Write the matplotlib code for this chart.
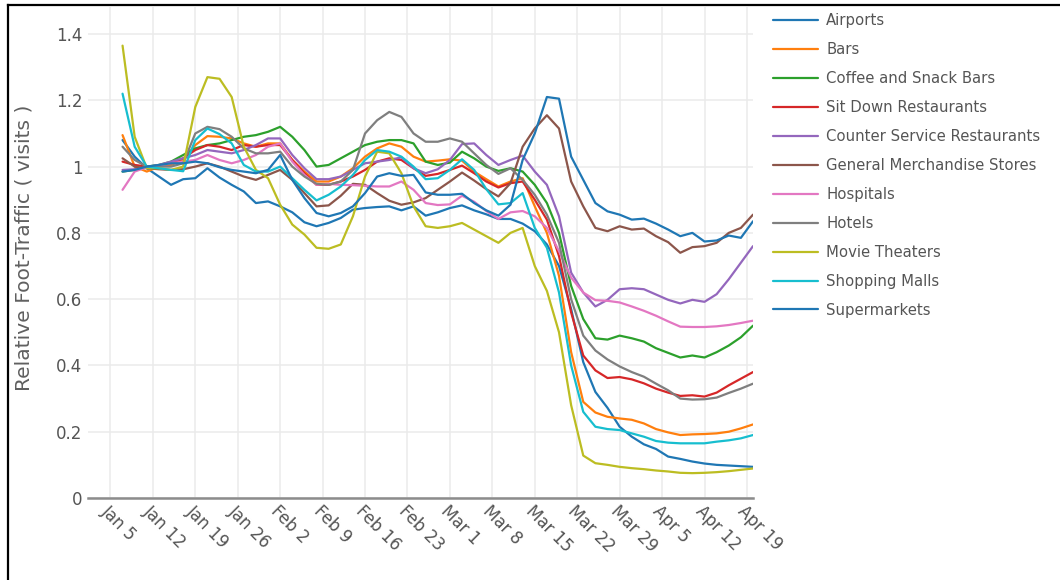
import matplotlib
matplotlib.use('Agg')
import matplotlib.pyplot as plt
from matplotlib.lines import Line2D
import pandas as pd

plt.rcParams['font.family'] = ['DejaVu Sans']

# ---------------- data ----------------
dates = pd.date_range('2020-01-07', '2020-04-20', freq='2D')
tick_dates = pd.date_range('2020-01-05', '2020-04-19', freq='7D')
y_ticks = [0, 0.2, 0.4, 0.6, 0.8, 1.0, 1.2, 1.4]

categories = ['Airports', 'Bars', 'Coffee and Snack Bars', 'Sit Down Restaurants',
              'Counter Service Restaurants', 'General Merchandise Stores', 'Hospitals',
              'Hotels', 'Movie Theaters', 'Shopping Malls', 'Supermarkets']

airports = [1.08, 1.03, 0.995, 0.97, 0.945, 0.962, 0.965, 0.995, 0.967, 0.945,
            0.925, 0.89, 0.895, 0.88, 0.862, 0.832, 0.82, 0.83, 0.845, 0.87,
            0.875, 0.878, 0.88, 0.868, 0.88, 0.852, 0.862, 0.875, 0.883, 0.868,
            0.856, 0.842, 0.842, 0.828, 0.805, 0.765, 0.70, 0.57, 0.41, 0.32,
            0.272, 0.215, 0.185, 0.162, 0.148, 0.125, 0.118, 0.11, 0.104, 0.10,
            0.098, 0.096, 0.094]
bars = [1.095, 1.0, 0.985, 1.0, 1.005, 1.02, 1.065, 1.092, 1.09, 1.085,
        1.07, 1.06, 1.07, 1.07, 1.02, 0.985, 0.955, 0.955, 0.97, 0.995,
        1.03, 1.055, 1.07, 1.06, 1.03, 1.015, 1.018, 1.022, 1.018, 0.985,
        0.962, 0.94, 0.955, 0.965, 0.88, 0.80, 0.67, 0.44, 0.29, 0.258,
        0.245, 0.24, 0.236, 0.225, 0.208, 0.198, 0.19, 0.192, 0.193, 0.195,
        0.2, 0.21, 0.222]
coffee = [0.985, 0.99, 1.0, 1.005, 1.015, 1.035, 1.055, 1.065, 1.07, 1.08,
          1.09, 1.095, 1.105, 1.12, 1.09, 1.05, 1.0, 1.005, 1.025, 1.045,
          1.065, 1.075, 1.08, 1.08, 1.07, 1.015, 1.005, 1.012, 1.045, 1.025,
          1.0, 0.987, 0.995, 0.985, 0.945, 0.89, 0.80, 0.64, 0.54, 0.482,
          0.478, 0.49, 0.482, 0.472, 0.452, 0.438, 0.424, 0.43, 0.424, 0.44,
          0.46, 0.485, 0.52]
sit_down = [1.015, 1.005, 1.0, 1.003, 1.01, 1.025, 1.05, 1.065, 1.06, 1.05,
            1.065, 1.06, 1.065, 1.065, 1.02, 0.98, 0.945, 0.945, 0.955, 0.97,
            0.99, 1.015, 1.025, 1.02, 0.995, 0.972, 0.978, 0.99, 1.003, 0.98,
            0.955, 0.937, 0.95, 0.955, 0.90, 0.84, 0.73, 0.56, 0.43, 0.385,
            0.362, 0.365, 0.358, 0.346, 0.33, 0.318, 0.308, 0.31, 0.306, 0.318,
            0.34, 0.36, 0.38]
counter = [0.99, 0.992, 0.998, 1.005, 1.015, 1.025, 1.035, 1.05, 1.045, 1.04,
           1.05, 1.065, 1.085, 1.085, 1.035, 0.995, 0.962, 0.962, 0.97, 0.99,
           1.01, 1.015, 1.02, 1.028, 0.995, 0.98, 0.992, 1.02, 1.068, 1.07,
           1.035, 1.005, 1.02, 1.033, 0.985, 0.945, 0.85, 0.68, 0.62, 0.578,
           0.598, 0.63, 0.633, 0.63, 0.614, 0.598, 0.587, 0.598, 0.592, 0.615,
           0.66, 0.71, 0.76]
merchandise = [1.025, 1.0, 0.995, 0.992, 0.99, 0.992, 1.0, 1.01, 1.0, 0.985,
               0.97, 0.96, 0.975, 0.99, 0.96, 0.92, 0.88, 0.883, 0.912, 0.948,
               0.945, 0.92, 0.897, 0.885, 0.892, 0.905, 0.93, 0.955, 0.982, 0.958,
               0.932, 0.91, 0.95, 1.06, 1.115, 1.155, 1.115, 0.955, 0.88, 0.815,
               0.805, 0.82, 0.81, 0.813, 0.79, 0.772, 0.74, 0.757, 0.76, 0.77,
               0.80, 0.815, 0.855]
hospitals = [0.93, 0.985, 0.998, 1.002, 1.01, 1.015, 1.02, 1.035, 1.02, 1.01,
             1.02, 1.035, 1.06, 1.07, 1.015, 0.975, 0.945, 0.948, 0.945, 0.944,
             0.942, 0.94, 0.94, 0.955, 0.93, 0.89, 0.884, 0.886, 0.912, 0.894,
             0.866, 0.842, 0.862, 0.866, 0.85, 0.815, 0.745, 0.665, 0.62, 0.597,
             0.595, 0.59, 0.578, 0.565, 0.55, 0.533, 0.517, 0.516, 0.516, 0.518,
             0.522, 0.528, 0.535]
hotels = [1.06, 1.02, 1.0, 1.0, 1.0, 1.01, 1.10, 1.12, 1.113, 1.09,
          1.055, 1.04, 1.04, 1.045, 1.0, 0.97, 0.948, 0.945, 0.955, 0.99,
          1.10, 1.14, 1.165, 1.15, 1.10, 1.075, 1.075, 1.085, 1.075, 1.04,
          1.005, 0.978, 0.995, 0.96, 0.915, 0.855, 0.77, 0.60, 0.49, 0.445,
          0.418, 0.397, 0.38, 0.366, 0.345, 0.325, 0.30, 0.297, 0.298, 0.303,
          0.317, 0.33, 0.345]
movies = [1.365, 1.09, 0.995, 0.995, 0.99, 1.0, 1.18, 1.27, 1.265, 1.21,
          1.06, 0.99, 0.965, 0.885, 0.825, 0.795, 0.755, 0.752, 0.765, 0.85,
          0.97, 1.045, 1.04, 0.98, 0.88, 0.82, 0.815, 0.82, 0.83, 0.81,
          0.79, 0.77, 0.80, 0.815, 0.70, 0.625, 0.50, 0.28, 0.128, 0.105,
          0.10, 0.094, 0.09, 0.087, 0.083, 0.08, 0.076, 0.075, 0.076, 0.078,
          0.081, 0.085, 0.089]
malls = [1.22, 1.06, 1.0, 0.995, 0.99, 0.986, 1.08, 1.115, 1.098, 1.07,
         1.005, 0.985, 0.985, 1.0, 0.965, 0.93, 0.898, 0.915, 0.94, 0.975,
         1.02, 1.05, 1.045, 1.03, 1.0, 0.962, 0.965, 0.99, 1.022, 0.99,
         0.932, 0.886, 0.89, 0.92, 0.815, 0.755, 0.62, 0.40, 0.26, 0.215,
         0.208, 0.205, 0.195, 0.185, 0.172, 0.167, 0.165, 0.165, 0.165, 0.17,
         0.174, 0.18, 0.19]
supermarkets = [0.985, 0.99, 1.0, 1.005, 1.01, 1.01, 1.015, 1.01, 0.998, 0.99,
                0.985, 0.98, 0.99, 1.035, 0.96, 0.905, 0.86, 0.85, 0.86, 0.88,
                0.92, 0.97, 0.98, 0.972, 0.975, 0.922, 0.915, 0.915, 0.918, 0.89,
                0.868, 0.852, 0.885, 1.02, 1.10, 1.21, 1.205, 1.03, 0.96, 0.89,
                0.865, 0.855, 0.84, 0.843, 0.828, 0.81, 0.79, 0.80, 0.774, 0.777,
                0.792, 0.785, 0.835]

series = [airports, bars, coffee, sit_down, counter, merchandise, hospitals,
          hotels, movies, malls, supermarkets]
colors = ['#1f77b4', '#ff7f0e', '#2ca02c', '#d62728', '#9467bd', '#8c564b',
          '#e377c2', '#7f7f7f', '#bcbd22', '#17becf', '#1f77b4']

# ---------------- layout ----------------
W, H = 1060, 580
L, R, B, T = 88, 753, 498, 7
px_per_unit = 331.4
text_gray = '#555555'

fig = plt.figure(figsize=(W / 100, H / 100), dpi=100)
fig.patch.set_facecolor('white')
ax = fig.add_axes([L / W, 1 - B / H, (R - L) / W, (B - T) / H])

for name, vals, c in zip(categories, series, colors):
    ax.plot(dates, vals, color=c, lw=1.6, label=name,
            solid_joinstyle='round', solid_capstyle='round')

ax.set_xlim(pd.Timestamp('2020-01-05') - pd.Timedelta(days=3.7),
            pd.Timestamp('2020-04-20'))
ax.set_ylim(0, (B - T) / px_per_unit)

ax.set_xticks(tick_dates)
ax.set_xticklabels([f"{d:%b} {d.day}" for d in tick_dates])
ax.set_yticks(y_ticks)
ax.set_yticklabels([f"{v:g}" for v in y_ticks])

ax.tick_params(axis='both', length=0, labelsize=12, labelcolor=text_gray)
ax.tick_params(axis='y', pad=4)
ax.tick_params(axis='x', pad=3)
for lbl in ax.get_xticklabels():
    lbl.set_rotation(-45)
    lbl.set_ha('left')
    lbl.set_va('top')
    lbl.set_rotation_mode('anchor')

ax.grid(True, color='#ebebeb', lw=1.1)
ax.set_axisbelow(True)
for s in ['top', 'right', 'left']:
    ax.spines[s].set_visible(False)
ax.spines['bottom'].set_color('#8c8c8c')
ax.spines['bottom'].set_linewidth(1.8)

fig.text(24 / W, 1 - 248 / H, 'Relative Foot-Traffic ( visits )', rotation=90,
         ha='center', va='center', fontsize=14.6, color='#606060')

ax.legend(loc='upper left', bbox_to_anchor=(773 / W, 1 - 13 / H),
          bbox_transform=fig.transFigure, frameon=False, fontsize=10.7,
          handlelength=3.0, handletextpad=0.58, labelspacing=0.94,
          borderpad=0, borderaxespad=0, labelcolor=text_gray)

# screenshot frame (left and top edges)
fig.add_artist(Line2D([8 / W, 8 / W], [0, 1 - 5 / H], transform=fig.transFigure,
                      color='black', lw=1.6))
fig.add_artist(Line2D([8 / W, 1], [1 - 5 / H, 1 - 5 / H], transform=fig.transFigure,
                      color='black', lw=1.6))

fig.savefig('out.png', dpi=100, facecolor='white')
